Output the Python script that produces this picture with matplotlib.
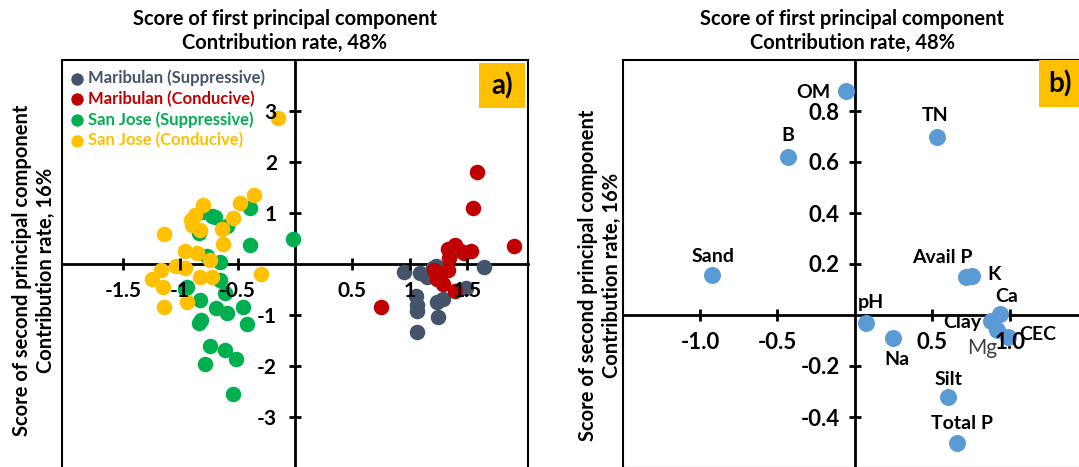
import numpy as np
import matplotlib
matplotlib.use("Agg")
import matplotlib.pyplot as plt
from matplotlib.patches import Rectangle

plt.rcParams['font.family'] = ['Lato', 'DejaVu Sans']
plt.rcParams['font.weight'] = 'bold'
plt.rcParams['axes.unicode_minus'] = False

# ---- panel a: PCA scores ----
mar_sup_x = [0.95, 1.09, 1.15, 1.23, 1.20, 1.45, 1.65, 1.49, 1.05, 1.06, 1.06, 1.24, 1.29, 1.25, 1.06]
mar_sup_y = [-0.15, -0.17, -0.24, -0.04, -0.08, 0.25, -0.06, -0.47, -0.63, -0.79, -0.91, -0.73, -0.68, -1.04, -1.33]

mar_con_x = [1.59, 1.55, 1.91, 1.33, 1.39, 1.47, 1.53, 1.34, 1.33, 1.21, 1.24, 1.29, 1.39, 0.75]
mar_con_y = [1.81, 1.11, 0.35, 0.30, 0.38, 0.22, 0.25, 0.12, -0.11, -0.11, -0.28, -0.39, -0.52, -0.84]

sj_sup_x = [-0.39, -0.72, -0.70, -0.81, -0.59, -0.84, -0.39, -0.02, -0.77, -0.65, -0.65, -0.94,
            -0.96, -0.83, -0.61, -0.69, -0.59, -0.45, -0.84, -0.82, -0.42, -0.74, -0.61, -0.51, -0.78, -0.54]
sj_sup_y = [1.10, 0.95, 0.93, 1.03, 0.74, 0.61, 0.38, 0.49, 0.17, 0.05, -0.30, -0.44,
            -0.48, -0.70, -0.56, -0.85, -0.96, -0.83, -1.15, -1.10, -1.17, -1.61, -1.68, -1.85, -1.95, -2.55]

sj_con_x = [-0.15, -0.36, -0.48, -0.80, -0.54, -0.87, -0.91, -0.83, -0.90, -0.64, -1.14, -0.63, -0.96,
            -0.85, -0.74, -1.04, -0.96, -1.17, -1.25, -0.83, -0.72, -0.30, -1.15, -1.14, -0.94]
sj_con_y = [2.87, 1.36, 1.19, 1.17, 0.90, 0.97, 0.87, 0.68, 0.76, 0.69, 0.59, 0.40, 0.25,
            0.22, 0.09, -0.03, -0.07, -0.11, -0.29, -0.24, -0.25, -0.19, -0.45, -0.83, -0.73]

groups = ['Maribulan (Suppressive)', 'Maribulan (Conducive)',
          'San Jose (Suppressive)', 'San Jose (Conducive)']
group_colors = ['#44546A', '#C00000', '#00B050', '#FFC000']

# ---- panel b: loadings ----
var_names = ['OM', 'B', 'TN', 'Sand', 'Avail P', 'K', 'pH', 'Na', 'Silt', 'Total P', 'Ca', 'Clay', 'Mg', 'CEC']
load_x = [-0.06, -0.43, 0.53, -0.92, 0.715, 0.76, 0.07, 0.245, 0.60, 0.66, 0.94, 0.877, 0.92, 0.99]
load_y = [0.88, 0.62, 0.70, 0.155, 0.148, 0.153, -0.033, -0.09, -0.32, -0.50, 0.004, -0.022, -0.06, -0.087]
# label offsets in pixels (dx, dy up)
lab_off = {'OM': (-32, -2), 'B': (0, 21), 'TN': (-2, 21), 'Sand': (1, 19), 'Avail P': (-23, 20),
           'K': (22, 1), 'pH': (5, 21), 'Na': (4, -22), 'Silt': (1, 17), 'Total P': (5, 19),
           'Ca': (6, 17), 'Clay': (-28, -2), 'Mg': (-15, -18), 'CEC': (30, 3)}

title1 = 'Score of first principal component'
title2 = 'Contribution rate, 48%'
ylab1 = 'Score of second principal component'
ylab2 = 'Contribution rate, 16%'

W, H = 1079, 467
fig = plt.figure(figsize=(W / 100, H / 100), dpi=100)


def px_axes(l, t, r, b):
    return fig.add_axes([l / W, (H - b) / H, (r - l) / W, (b - t) / H])


def cross_axes(ax, fs, pad_x, pad_y):
    for s in ['top', 'right']:
        ax.spines[s].set_visible(False)
    for s in ['left', 'bottom']:
        ax.spines[s].set_position(('data', 0))
        ax.spines[s].set_linewidth(2.0)
    ax.add_patch(Rectangle((0, 0), 1, 1, transform=ax.transAxes, fill=False,
                           lw=1.5, ec='black', clip_on=False, zorder=2))
    ax.tick_params(direction='inout', length=8, width=2, labelsize=fs)
    ax.tick_params(axis='x', pad=pad_x)
    ax.tick_params(axis='y', pad=pad_y)
    ax.xaxis.set_zorder(4)
    ax.yaxis.set_zorder(4)


def tag_box(l, t, r, b, label):
    fig.patches.append(Rectangle((l / W, 1 - b / H), (r - l) / W, (b - t) / H,
                                 transform=fig.transFigure, fc='#FFC000', ec='none', zorder=5))
    fig.text((l + r) / 2 / W, 1 - (t + b) / 2 / H, label, ha='center', va='center',
             fontsize=20, fontweight='bold', zorder=6)


# panel a
axa = px_axes(62, 60, 528, 468.5)
axa.set_xlim(-2.03, 2.03)
axa.set_ylim(-4.0, 4.0)
cross_axes(axa, 15, 8, 9)
axa.set_xticks([-1.5, -1, -0.5, 0.5, 1, 1.5])
axa.set_xticklabels(['-1.5', '-1', '-0.5', '0.5', '1', '1.5'])
axa.set_yticks([-3, -2, -1, 1, 2, 3])
xs = [mar_sup_x, mar_con_x, sj_sup_x, sj_con_x]
ys = [mar_sup_y, mar_con_y, sj_sup_y, sj_con_y]
for gx, gy, name, c in zip(xs, ys, groups, group_colors):
    axa.scatter(gx, gy, s=125, color=c, label=name, zorder=3, linewidths=0)
leg = axa.legend(loc='upper left', bbox_to_anchor=(-0.015, 1.005), frameon=False,
                 handletextpad=0.1, labelspacing=0.26, markerscale=0.8,
                 borderaxespad=0.3, handlelength=1.2,
                 prop={'size': 12, 'weight': 'bold'}, labelcolor=group_colors)
tag_box(479, 63, 525, 108, 'a)')

# panel b
axb = px_axes(622.7, 60, 1087, 468)
axb.set_xlim(-1.5, 1.5)
axb.set_ylim(-0.6, 1.0)
cross_axes(axb, 16, 8, 7)
axb.set_xticks([-1.0, -0.5, 0.5, 1.0])
axb.set_xticklabels(['-1.0', '-0.5', '0.5', '1.0'])
axb.set_yticks([-0.4, -0.2, 0.2, 0.4, 0.6, 0.8])
axb.set_yticklabels(['-0.4', '-0.2', '0.2', '0.4', '0.6', '0.8'])
axb.scatter(load_x, load_y, s=150, color='#5B9BD5', zorder=3, linewidths=0)
for name, x, y in zip(var_names, load_x, load_y):
    dx, dy = lab_off[name]
    if name == 'Mg':
        kw = dict(fontsize=15, fontweight='normal', color='#404040')
    else:
        kw = dict(fontsize=14, fontweight='bold', color='black')
    axb.annotate(name, (x, y), xytext=(dx * 0.72, dy * 0.72), textcoords='offset points',
                 ha='center', va='center', zorder=4, **kw)
tag_box(1039, 60, 1082, 107, 'b)')

# titles and y labels
for cx in [285, 852]:
    fig.text(cx / W, 1 - 19 / H, title1, ha='center', va='center', fontsize=14.5, fontweight='bold')
    fig.text(cx / W, 1 - 43 / H, title2, ha='center', va='center', fontsize=14.5, fontweight='bold')
for x1, x2, cy in [(22, 46, 270), (588, 612, 275)]:
    fig.text(x1 / W, 1 - cy / H, ylab1, rotation=90, ha='center', va='center', fontsize=14.5, fontweight='bold')
    fig.text(x2 / W, 1 - cy / H, ylab2, rotation=90, ha='center', va='center', fontsize=14.5, fontweight='bold')

fig.savefig('out.png', dpi=100)
